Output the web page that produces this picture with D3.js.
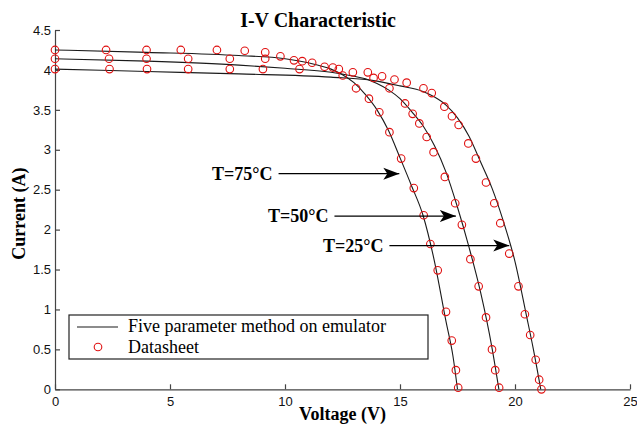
<!DOCTYPE html>
<html>
<head>
<meta charset="utf-8">
<script src="https://cdn.jsdelivr.net/npm/d3@7"></script>
<style>
  body { margin: 0; background: #fff; }
</style>
</head>
<body>
<div id="my_dataviz"></div>
<script>
// ---------------------------//
//       DATA                 //
// ---------------------------//
var voltageTicks = [0, 5, 10, 15, 20, 25];
var currentTicks = [0, 0.5, 1, 1.5, 2, 2.5, 3, 3.5, 4, 4.5];

// five parameter model curves [V, I]
var model75 = [[0,4.25],[4,4.22],[8,4.18],[10,4.14],[11,4.09],[12,4.01],[12.5,3.94],[13,3.84],[13.5,3.69],[14,3.50],[14.5,3.24],[15,2.90],[15.5,2.55],[16,2.18],[16.5,1.60],[17,0.85],[17.3,0.42],[17.5,0]];
var model50 = [[0,4.14],[4,4.11],[8,4.06],[10,4.02],[12,3.97],[13,3.92],[13.5,3.89],[14,3.83],[14.5,3.75],[15,3.64],[15.5,3.48],[16,3.30],[16.5,3.05],[17,2.72],[17.5,2.28],[18,1.78],[18.5,1.22],[19,0.52],[19.3,0]];
var model25 = [[0,4.01],[4,3.98],[8,3.95],[12,3.91],[14,3.86],[15,3.80],[16,3.73],[16.5,3.66],[17,3.56],[17.5,3.40],[18,3.17],[18.5,2.85],[19,2.52],[19.5,2.10],[20,1.60],[20.5,0.92],[20.8,0.50],[21.12,0]];

// datasheet points [V, I]
var sheet75 = [[0,4.25],[2.22,4.25],[3.98,4.25],[5.47,4.25],[7.04,4.25],[8.25,4.24],[9.14,4.22],[9.8,4.17],[10.39,4.12],[11.18,4.09],[11.72,4.04],[12.34,4.01],[12.51,3.93],[13.09,3.77],[13.65,3.64],[14.1,3.47],[14.54,3.22],[15.05,2.89],[15.6,2.52],[16.03,2.18],[16.32,1.82],[16.64,1.49],[17.0,0.97],[17.25,0.61],[17.43,0.24],[17.53,0.02]];
var sheet50 = [[0,4.14],[2.35,4.14],[3.98,4.14],[5.79,4.14],[7.6,4.14],[9.14,4.14],[10.75,4.11],[12.08,4.03],[12.95,3.97],[13.85,3.9],[14.54,3.77],[15.22,3.58],[15.55,3.45],[15.84,3.33],[16.16,3.16],[16.46,2.97],[16.95,2.66],[17.4,2.33],[17.69,2.06],[18.06,1.63],[18.42,1.29],[18.74,0.9],[19.0,0.5],[19.14,0.24],[19.31,0.02]];
var sheet25 = [[0,4.01],[2.37,4.01],[4.0,4.01],[5.79,4.01],[7.6,4.01],[9.04,4.01],[10.63,4.01],[13.6,3.97],[14.22,3.92],[14.76,3.88],[15.29,3.84],[16.02,3.77],[16.38,3.71],[16.93,3.54],[17.26,3.42],[17.55,3.31],[17.97,3.08],[18.3,2.89],[18.74,2.59],[19.1,2.33],[19.36,2.08],[19.75,1.7],[20.15,1.29],[20.43,0.94],[20.66,0.68],[20.9,0.37],[21.05,0.12],[21.15,0]];

var tempLabels = ["T=75\u00B0C", "T=50\u00B0C", "T=25\u00B0C"];
var legendLabels = ["Five parameter method on emulator", "Datasheet"];

var serif = "'Liberation Serif', 'Times New Roman', serif";
var sans = "'Liberation Sans', Arial, sans-serif";

// set the dimensions and margins of the graph
var margin = {top: 30, right: 7, bottom: 36, left: 55},
    width = 637 - margin.left - margin.right,
    height = 425 - margin.top - margin.bottom;

var svg = d3.select("#my_dataviz")
  .append("svg")
    .attr("width", 637)
    .attr("height", 425)
  .append("g")
    .attr("transform", "translate(" + margin.left + "," + margin.top + ")");

// arrow head
svg.append("defs").append("marker")
    .attr("id", "head")
    .attr("markerUnits", "userSpaceOnUse")
    .attr("viewBox", "0 -7 17 14")
    .attr("refX", 16)
    .attr("refY", 0)
    .attr("markerWidth", 17)
    .attr("markerHeight", 14)
    .attr("orient", "auto")
  .append("path")
    .attr("d", "M0,-6L16,0L0,6L4,0Z")
    .attr("fill", "#000");

// ---------------------------//
//       AXIS  AND SCALE      //
// ---------------------------//
var x = d3.scaleLinear()
  .domain([0, 25])
  .range([0, 575]);
var y = d3.scaleLinear()
  .domain([0, 4.5])
  .range([359.3, 0]);

var fmt = d3.format("~g");

var xAxis = svg.append("g")
  .attr("transform", "translate(0," + y(0) + ")")
  .call(d3.axisBottom(x).tickValues(voltageTicks).tickFormat(fmt).tickSizeInner(-5).tickSizeOuter(0).tickPadding(7));
var yAxis = svg.append("g")
  .call(d3.axisLeft(y).tickValues(currentTicks).tickFormat(fmt).tickSizeInner(-5).tickSizeOuter(0).tickPadding(4));

[xAxis, yAxis].forEach(function(a) {
  a.selectAll("path, line").attr("stroke", "#444").attr("stroke-width", 1.2);
  a.selectAll("text")
    .style("font-family", sans)
    .style("font-size", "13px")
    .attr("fill", "#111");
});

// title
svg.append("text")
  .attr("x", 263)
  .attr("y", -3)
  .attr("text-anchor", "middle")
  .style("font-family", serif)
  .style("font-weight", "bold")
  .style("font-size", "20px")
  .text("I-V Characteristic");

// X axis label
svg.append("text")
  .attr("x", x(12.5))
  .attr("y", height + 31)
  .attr("text-anchor", "middle")
  .style("font-family", serif)
  .style("font-weight", "bold")
  .style("font-size", "18px")
  .text("Voltage (V)");

// Y axis label
svg.append("text")
  .attr("transform", "rotate(-90)")
  .attr("x", -y(2.2))
  .attr("y", -30)
  .attr("text-anchor", "middle")
  .style("font-family", serif)
  .style("font-weight", "bold")
  .style("font-size", "18px")
  .text("Current (A)");

// ---------------------------//
//       CURVES AND POINTS    //
// ---------------------------//
var line = d3.line()
  .x(function(d) { return x(d[0]); })
  .y(function(d) { return y(d[1]); })
  .curve(d3.curveMonotoneX);

svg.append("g")
  .selectAll("path")
  .data([model75, model50, model25])
  .enter()
  .append("path")
    .attr("d", line)
    .attr("fill", "none")
    .attr("stroke", "#1a1a1a")
    .attr("stroke-width", 1.1);

svg.append("g")
  .selectAll("circle")
  .data(sheet75.concat(sheet50, sheet25))
  .enter()
  .append("circle")
    .attr("cx", function(d) { return x(d[0]); })
    .attr("cy", function(d) { return y(d[1]); })
    .attr("r", 3.8)
    .attr("fill", "none")
    .attr("stroke", "#e01010")
    .attr("stroke-width", 1.1);

// ---------------------------//
//       ANNOTATIONS          //
// ---------------------------//
var arrows = [
  {label: tempLabels[0], x0: 9.72, x1: 14.97, i: 2.70},
  {label: tempLabels[1], x0: 12.15, x1: 17.43, i: 2.17},
  {label: tempLabels[2], x0: 14.54, x1: 19.75, i: 1.80}
];
arrows.forEach(function(a) {
  svg.append("line")
    .attr("x1", x(a.x0))
    .attr("x2", x(a.x1))
    .attr("y1", y(a.i))
    .attr("y2", y(a.i))
    .attr("stroke", "#000")
    .attr("stroke-width", 1.2)
    .attr("marker-end", "url(#head)");
  svg.append("text")
    .attr("x", x(a.x0) - 6)
    .attr("y", y(a.i) + 6)
    .attr("text-anchor", "end")
    .style("font-family", serif)
    .style("font-weight", "bold")
    .style("font-size", "18px")
    .text(a.label);
});

// ---------------------------//
//       LEGEND               //
// ---------------------------//
var lg = svg.append("g").attr("transform", "translate(14,285)");
lg.append("rect")
  .attr("width", 359)
  .attr("height", 44)
  .attr("fill", "#fff")
  .attr("stroke", "#222")
  .attr("stroke-width", 1.2);
lg.append("line")
  .attr("x1", 8).attr("x2", 49)
  .attr("y1", 12).attr("y2", 12)
  .attr("stroke", "#1a1a1a").attr("stroke-width", 1.1);
lg.append("circle")
  .attr("cx", 29).attr("cy", 32).attr("r", 3.8)
  .attr("fill", "none").attr("stroke", "#e01010").attr("stroke-width", 1.1);
lg.selectAll("legendText")
  .data(legendLabels)
  .enter()
  .append("text")
    .attr("x", 59)
    .attr("y", function(d, i) { return 17 + i * 21; })
    .style("font-family", serif)
    .style("font-size", "18px")
    .text(function(d) { return d; });
</script>
</body>
</html>
